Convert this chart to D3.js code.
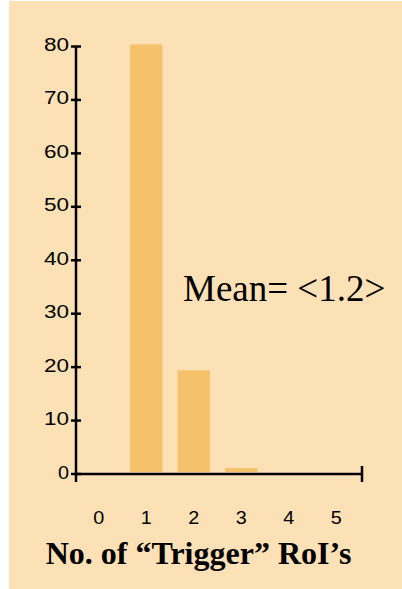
<!DOCTYPE html>
<html>
<head>
<meta charset="utf-8">
<script src="https://cdn.jsdelivr.net/npm/d3@7"></script>
<style>
  body { margin: 0; background: #ffffff; }
  svg { display: block; }
</style>
</head>
<body>
<script>
// chart data
var categories = [0, 1, 2, 3, 4, 5];
var counts = [0, 80.4, 19.4, 1.1, 0, 0];
var yTicks = [0, 10, 20, 30, 40, 50, 60, 70, 80];
var xTitle = "No. of \u201cTrigger\u201d RoI\u2019s";
var meanLabel = "Mean= <1.2>";

var W = 402, H = 589;
var bg = "#fce1b7", barColor = "#f5c16b";

var svg = d3.select("body").append("svg").attr("width", W).attr("height", H);

// panel behind the chart
svg.append("rect").attr("x", 9).attr("y", 1).attr("width", W - 9).attr("height", H - 1).attr("fill", bg);

var x = d3.scaleBand().domain(categories).range([75, 360]).paddingInner(0.32).paddingOuter(0.16);
var y = d3.scaleLinear().domain([0, 80]).range([474, 46.5]);

//bars, they stop just short of the axis line
svg.selectAll("rect.bar")
  .data(counts)
  .enter()
  .append("rect")
  .attr("class", "bar")
  .attr("x", function(d, i) { return x(categories[i]); })
  .attr("y", function(d) { return y(d); })
  .attr("width", x.bandwidth())
  .attr("height", function(d) { return Math.max(0, y(0) - 2 - y(d)); })
  .attr("fill", barColor);

var axis = svg.append("g").attr("stroke", "#000").attr("stroke-width", 2.5);

// y axis line, runs a bit below zero
axis.append("line").attr("x1", 76).attr("x2", 76).attr("y1", y(80)).attr("y2", y(0) + 8);
// x axis line with end tick
axis.append("line").attr("x1", 76).attr("x2", 362).attr("y1", y(0)).attr("y2", y(0));
axis.append("line").attr("x1", 362).attr("x2", 362).attr("y1", y(0) - 8).attr("y2", y(0) + 8);

// y ticks cross the axis line
axis.selectAll("line.tick")
  .data(yTicks)
  .enter()
  .append("line")
  .attr("class", "tick")
  .attr("x1", 71).attr("x2", 81)
  .attr("y1", function(d) { return y(d); })
  .attr("y2", function(d) { return y(d); });

svg.selectAll("text.ylab")
  .data(yTicks)
  .enter()
  .append("text")
  .attr("class", "ylab")
  .attr("x", 69)
  .attr("y", function(d) { return y(d) + 4.5; })
  .attr("text-anchor", "end")
  .attr("font-family", "Liberation Sans, Arial, sans-serif")
  .attr("font-size", 18)
  .attr("textLength", function(d) { return d === 0 ? 11 : 25; })
  .attr("lengthAdjust", "spacingAndGlyphs")
  .attr("fill", "#000")
  .text(function(d) { return d; });

svg.selectAll("text.xlab")
  .data(categories)
  .enter()
  .append("text")
  .attr("class", "xlab")
  .attr("x", function(d) { return x(d) + x.bandwidth() / 2; })
  .attr("y", 523.5)
  .attr("text-anchor", "middle")
  .attr("font-family", "Liberation Sans, Arial, sans-serif")
  .attr("font-size", 18)
  .attr("textLength", 11)
  .attr("lengthAdjust", "spacingAndGlyphs")
  .attr("fill", "#000")
  .text(function(d) { return d; });

svg.append("text")
  .attr("x", 198.5)
  .attr("y", 564)
  .attr("text-anchor", "middle")
  .attr("font-family", "Liberation Serif, Times New Roman, serif")
  .attr("font-weight", "bold")
  .attr("font-size", 32)
  .attr("fill", "#000")
  .text(xTitle);

svg.append("text")
  .attr("x", 183)
  .attr("y", 301)
  .attr("font-family", "Liberation Serif, Times New Roman, serif")
  .attr("font-size", 37)
  .attr("fill", "#000")
  .text(meanLabel);
</script>
</body>
</html>
